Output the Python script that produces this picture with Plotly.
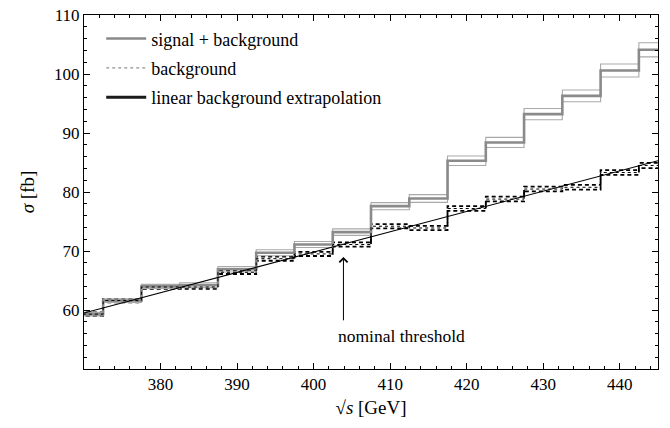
import plotly.graph_objects as go

# bin centres (GeV), 5 GeV bins
centers = [370, 375, 380, 385, 390, 395, 400, 405, 410, 415, 420, 425, 430, 435, 440, 445]
sig = [59.3, 61.6, 64.0, 64.2, 66.9, 69.7, 71.1, 73.2, 77.6, 78.9, 85.3, 88.4, 93.2, 96.3, 100.6, 104.1]
sig_err = [0.3, 0.3, 0.35, 0.4, 0.45, 0.5, 0.5, 0.55, 0.6, 0.65, 0.8, 0.85, 0.95, 1.0, 1.1, 1.2]
bkg = [59.3, 61.6, 63.9, 63.9, 66.4, 68.7, 69.5, 71.1, 74.2, 73.9, 77.2, 78.8, 80.5, 80.8, 83.3, 84.5]
bkg_err = [0.3, 0.3, 0.3, 0.3, 0.3, 0.35, 0.35, 0.35, 0.35, 0.35, 0.4, 0.4, 0.4, 0.4, 0.4, 0.45]
lin_x = [370, 445]
lin_y = [59.5, 85.3]
threshold = 403.9
x_ticks = [380, 390, 400, 410, 420, 430, 440]
y_ticks = [60, 70, 80, 90, 100, 110]

half = 2.5
xs = [c - half for c in centers] + [centers[-1] + half]


def steps(vals):
    return vals + [vals[-1]]


FONT = "Liberation Serif"
fig = go.Figure()

# background band (dashed black)
for sgn in (1, -1):
    fig.add_trace(go.Scatter(
        x=xs, y=steps([b + sgn * e for b, e in zip(bkg, bkg_err)]),
        mode="lines", line=dict(color="black", width=1.8, dash="4px,3px", shape="hv"),
        showlegend=False, hoverinfo="skip"))

# signal + background band (thin light gray)
for sgn in (1, -1):
    fig.add_trace(go.Scatter(
        x=xs, y=steps([s + sgn * e for s, e in zip(sig, sig_err)]),
        mode="lines", line=dict(color="#a9a9a9", width=1.1, shape="hv"),
        showlegend=False, hoverinfo="skip"))

# signal + background central
fig.add_trace(go.Scatter(
    x=xs, y=steps(sig), mode="lines",
    line=dict(color="#8a8a8a", width=2.6, shape="hv"),
    name="signal + background", legendgroup="a"))

# background legend entry (dotted)
fig.add_trace(go.Scatter(
    x=[None], y=[None], mode="lines",
    line=dict(color="#777777", width=1, dash="dot"),
    name="background", legendgroup="b"))
fig.add_trace(go.Scatter(
    x=xs, y=steps(bkg), mode="lines",
    line=dict(color="black", width=1.0, dash="dot", shape="hv"),
    showlegend=False, hoverinfo="skip"))

# linear extrapolation (thin line in plot, thick sample in legend)
fig.add_trace(go.Scatter(
    x=lin_x, y=lin_y, mode="lines",
    line=dict(color="black", width=1.1),
    showlegend=False, hoverinfo="skip"))
fig.add_trace(go.Scatter(
    x=[None], y=[None], mode="lines",
    line=dict(color="#1a1a1a", width=3),
    name="linear background extrapolation", legendgroup="c"))

fig.add_annotation(x=threshold, y=69.0, ax=threshold, ay=58.0,
                   xref="x", yref="y", axref="x", ayref="y",
                   showarrow=True, arrowhead=4, arrowsize=1.6, arrowwidth=1,
                   arrowcolor="black", text="")
fig.add_annotation(x=threshold - 1.0, y=55.6, xref="x", yref="y",
                   text="nominal threshold", showarrow=False,
                   xanchor="left", yanchor="middle",
                   font=dict(family=FONT, size=17.5, color="black"))

axis_common = dict(
    showgrid=False, zeroline=False, showline=True, linecolor="black", linewidth=1,
    mirror="allticks", ticks="inside", ticklen=6, tickcolor="black", automargin=False,
    tickfont=dict(family=FONT, size=17, color="black"),
)
fig.update_xaxes(range=[370, 445], tickvals=x_ticks,
                 minor=dict(dtick=2, tick0=370, ticks="inside", ticklen=3, tickcolor="black"),
                 title=dict(text="√<i>s</i> [GeV]", font=dict(family=FONT, size=19, color="black"),
                            standoff=7),
                 **axis_common)
fig.update_yaxes(range=[50, 110], tickvals=y_ticks,
                 minor=dict(dtick=2, tick0=50, ticks="inside", ticklen=3, tickcolor="black"),
                 title=dict(text="<i>σ</i> [fb]", font=dict(family=FONT, size=19, color="black"),
                            standoff=14),
                 **axis_common)

fig.update_layout(
    width=670, height=428,
    margin=dict(l=84, r=12, t=15, b=59),
    plot_bgcolor="white", paper_bgcolor="white",
    font=dict(family=FONT, color="black"),
    legend=dict(x=0.03, y=0.985, xanchor="left", yanchor="top",
                bgcolor="rgba(0,0,0,0)", font=dict(family=FONT, size=18, color="black"),
                tracegroupgap=3, itemwidth=40),
    showlegend=True,
)

fig.write_html("out.html", config={"displayModeBar": False},
               post_script="document.body.style.margin='0';")
